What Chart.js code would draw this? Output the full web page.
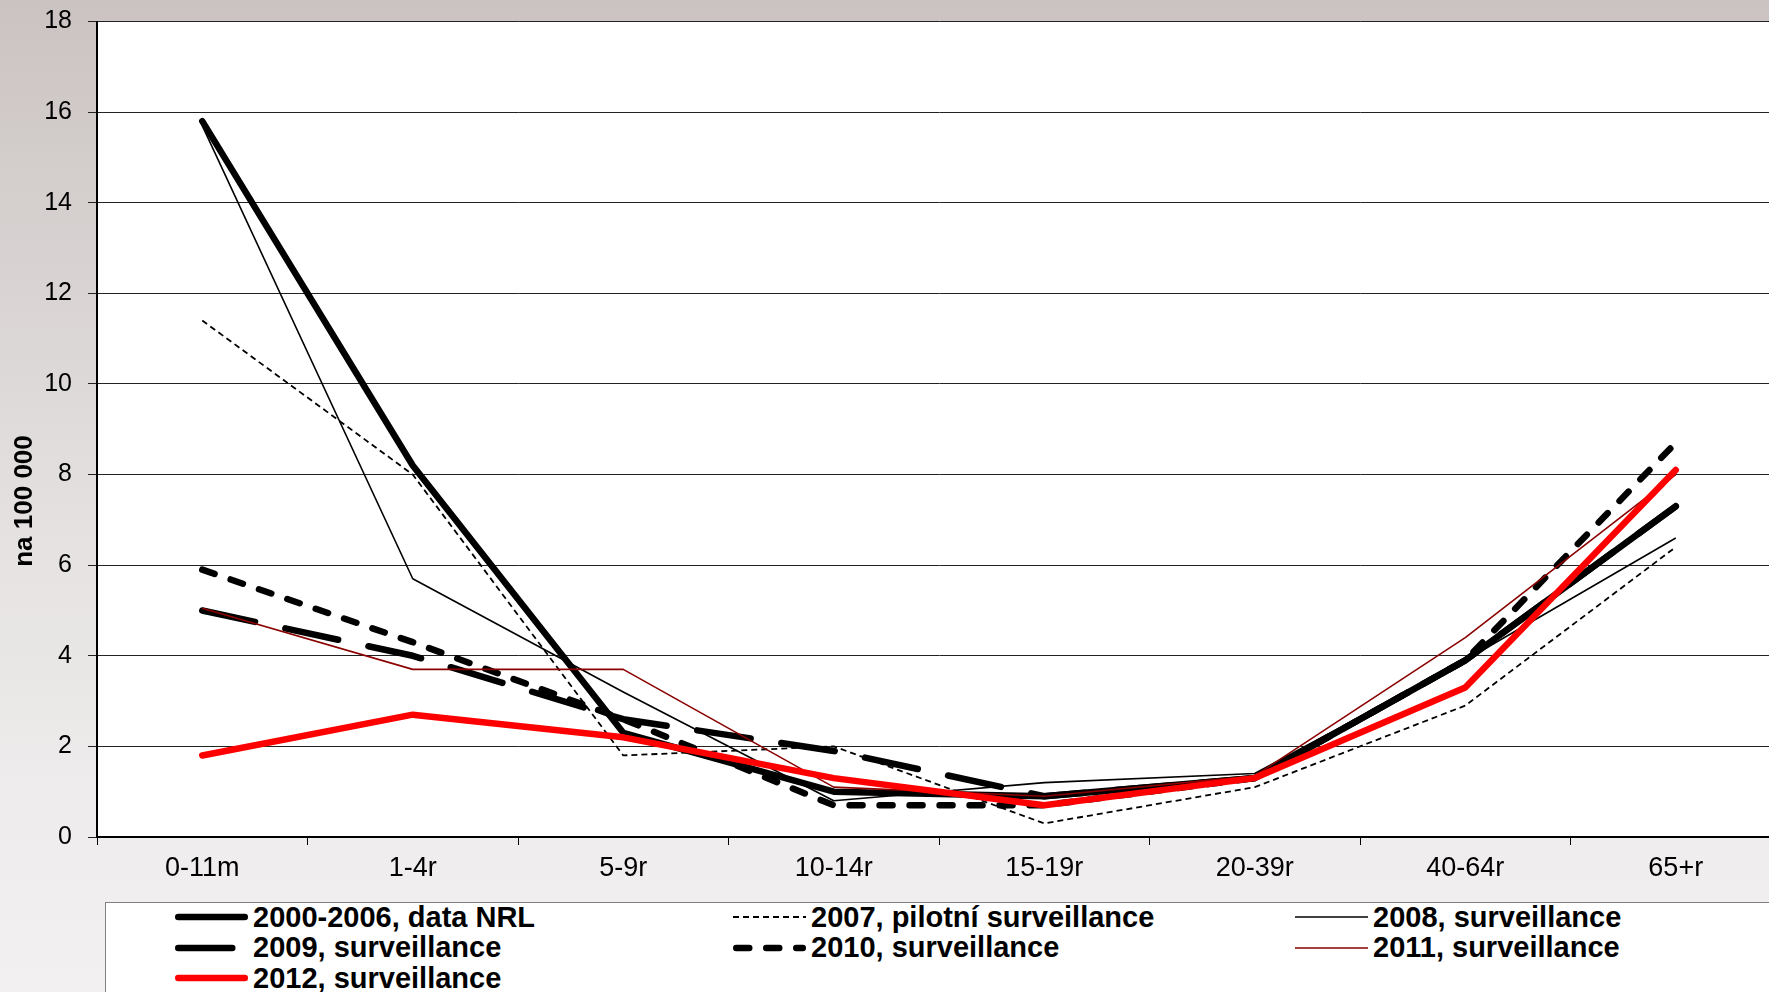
<!DOCTYPE html>
<html>
<head>
<meta charset="utf-8">
<script src="https://cdn.jsdelivr.net/npm/chart.js@4.4.1/dist/chart.umd.min.js"></script>
<style>
html,body{margin:0;padding:0;width:1769px;height:992px;overflow:hidden;}
body{position:relative;background:linear-gradient(to bottom,#CBC3C1 0px,#D7D2D1 250px,#E5E2E1 550px,#EEECEC 800px,#F2F0F0 992px);font-family:'Liberation Sans',Arial,sans-serif;}
#wrap{position:absolute;left:0;top:0;width:1800px;height:900px;}
#legend{position:absolute;left:105px;top:902px;width:1720px;height:140px;background:#fff;border:1px solid #808080;box-sizing:border-box;}
.item{position:absolute;height:30px;display:flex;align-items:center;font-weight:bold;font-size:29px;color:#000;white-space:nowrap;}
.item svg{margin-right:5px;flex:none;}
</style>
</head>
<body>
<div id="wrap"><canvas id="c"></canvas></div>
<div id="legend"></div>
<script>
// ---- data ----
const categories = ['0-11m', '1-4r', '5-9r', '10-14r', '15-19r', '20-39r', '40-64r', '65+r'];
const seriesNames = ['2000-2006, data NRL', '2007, pilotní surveillance', '2008, surveillance',
                     '2009, surveillance', '2010, surveillance', '2011, surveillance', '2012, surveillance'];
const s2000_2006 = [15.8, 8.2, 2.3, 1.0, 0.9, 1.3, 3.9, 7.3];
const s2007      = [11.4, 8.0, 1.8, 2.0, 0.3, 1.1, 2.9, 6.4];
const s2008      = [15.7, 5.7, 3.2, 0.8, 1.2, 1.4, 3.9, 6.6];
const s2009      = [5.0, 4.0, 2.6, 1.9, 0.9, 1.3, 3.9, 7.3];
const s2010      = [5.9, 4.3, 2.6, 0.7, 0.7, 1.3, 3.9, 8.7];
const s2011      = [5.05, 3.7, 3.7, 1.1, 0.9, 1.35, 4.4, 8.0];
const s2012      = [1.8, 2.7, 2.2, 1.3, 0.7, 1.3, 3.3, 8.1];
const yMin = 0, yMax = 18, yStep = 2;
const yTitle = 'na 100 000';

// ---- styles ----
const FONT = "'Liberation Sans', Arial, sans-serif";
const styles = [
  {color:'#000000', width:6.5, dash:[],      cap:'round'},
  {color:'#000000', width:1.8, dash:[6,4],   cap:'butt'},
  {color:'#000000', width:1.6, dash:[],      cap:'butt'},
  {color:'#000000', width:6.5, dash:[54,31], cap:'round'},
  {color:'#000000', width:6.5, dash:[13,17], cap:'round'},
  {color:'#8B0000', width:1.6, dash:[],      cap:'butt'},
  {color:'#FF0000', width:6.5, dash:[],      cap:'round'}
];
const seriesData = [s2000_2006, s2007, s2008, s2009, s2010, s2011, s2012];

const datasets = seriesData.map((d, i) => ({
  label: seriesNames[i],
  data: d,
  borderColor: styles[i].color,
  backgroundColor: styles[i].color,
  borderWidth: styles[i].width,
  borderDash: styles[i].dash,
  borderCapStyle: styles[i].cap,
  borderJoinStyle: 'round',
  pointRadius: 0,
  pointHoverRadius: 0,
  tension: 0,
  fill: false,
  order: seriesData.length - 1 - i
}));

const plotBg = {
  id: 'plotBg',
  beforeDraw(chart) {
    const {ctx, chartArea: a} = chart;
    ctx.save();
    ctx.fillStyle = '#ffffff';
    ctx.fillRect(a.left, a.top, a.right - a.left, a.bottom - a.top);
    ctx.restore();
  }
};
const yTitlePlugin = {
  id: 'yTitle',
  afterDraw(chart) {
    const ctx = chart.ctx;
    ctx.save();
    ctx.translate(25, 501);
    ctx.rotate(-Math.PI / 2);
    ctx.font = 'bold 26px ' + FONT;
    ctx.fillStyle = '#000';
    ctx.textAlign = 'center';
    ctx.textBaseline = 'middle';
    ctx.fillText(yTitle, 0, 0);
    ctx.restore();
  }
};

const chart = new Chart(document.getElementById('c'), {
  type: 'line',
  data: { labels: categories, datasets: datasets },
  options: {
    responsive: true,
    maintainAspectRatio: false,
    animation: false,
    layout: { padding: { top: 21.5, right: 19, left: 0, bottom: 0 } },
    plugins: { legend: { display: false }, tooltip: { enabled: false } },
    scales: {
      x: {
        type: 'category',
        offset: true,
        afterFit(scale) { scale.height = 63; scale.paddingLeft = 0; scale.paddingRight = 0; },
        grid: { offset: true, drawOnChartArea: false, drawTicks: true, tickLength: 8, color: '#000', lineWidth: 1 },
        border: { display: true, color: '#000', width: 2 },
        ticks: { font: { family: FONT, size: 27 }, color: '#000', padding: 7, maxRotation: 0, autoSkip: false }
      },
      y: {
        min: yMin, max: yMax,
        afterFit(scale) { scale.width = 97; scale.paddingTop = 0; scale.paddingBottom = 0; },
        grid: { color: '#222', lineWidth: 1, drawTicks: true, tickLength: 9 },
        border: { display: true, color: '#000', width: 2 },
        ticks: { stepSize: yStep, font: { family: FONT, size: 25 }, color: '#000', padding: 16 }
      }
    }
  },
  plugins: [plotBg, yTitlePlugin]
});

// ---- HTML legend built from chart datasets ----
const legend = document.getElementById('legend');
const colLeft = [69, 627, 1189];
chart.data.datasets.forEach((ds, i) => {
  const col = i % 3, row = Math.floor(i / 3);
  const item = document.createElement('div');
  item.className = 'item';
  item.style.left = colLeft[col] + 'px';
  item.style.top = (row * 30.5 - 1) + 'px';
  const svgNS = 'http://www.w3.org/2000/svg';
  const svg = document.createElementNS(svgNS, 'svg');
  svg.setAttribute('width', '73'); svg.setAttribute('height', '30');
  const ln = document.createElementNS(svgNS, 'line');
  const inset = ds.borderCapStyle === 'round' ? 3.25 : 0;
  ln.setAttribute('x1', inset); ln.setAttribute('x2', 73 - inset);
  ln.setAttribute('y1', 15); ln.setAttribute('y2', 15);
  ln.setAttribute('stroke', ds.borderColor);
  ln.setAttribute('stroke-width', ds.borderWidth);
  ln.setAttribute('stroke-linecap', ds.borderCapStyle);
  if (ds.borderDash && ds.borderDash.length) ln.setAttribute('stroke-dasharray', ds.borderDash.join(' '));
  svg.appendChild(ln);
  item.appendChild(svg);
  const span = document.createElement('span');
  span.textContent = ds.label;
  item.appendChild(span);
  legend.appendChild(item);
});
</script>
</body>
</html>
